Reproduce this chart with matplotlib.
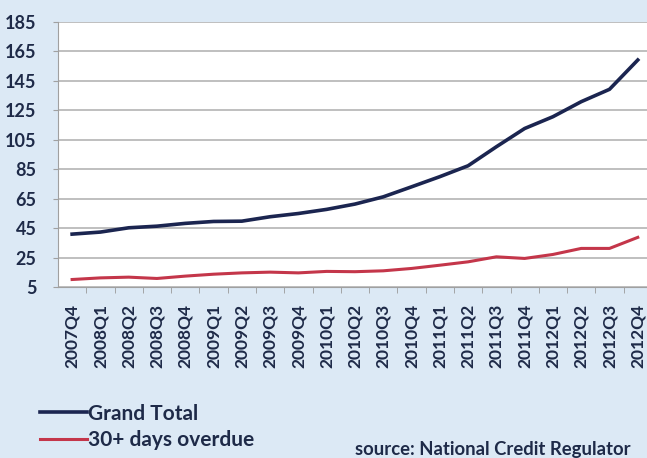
import matplotlib.pyplot as plt
import numpy as np

plt.rcParams['font.family'] = ['Lato', 'DejaVu Sans']

quarters = ["2007Q4", "2008Q1", "2008Q2", "2008Q3", "2008Q4", "2009Q1", "2009Q2",
            "2009Q3", "2009Q4", "2010Q1", "2010Q2", "2010Q3", "2010Q4", "2011Q1",
            "2011Q2", "2011Q3", "2011Q4", "2012Q1", "2012Q2", "2012Q3", "2012Q4"]
grand_total = [41, 42.4, 45.3, 46.4, 48.3, 49.6, 49.8, 52.8, 55, 57.8, 61.4,
               66.3, 73.1, 80, 87.4, 100.3, 112.7, 120.7, 130.9, 139.3, 159.2]
overdue_30 = [10.2, 11.3, 11.8, 10.9, 12.5, 13.8, 14.7, 15.2, 14.7, 15.7, 15.5,
              16.1, 17.7, 19.9, 22.2, 25.6, 24.5, 27.2, 31.3, 31.3, 38.8]
y_ticks = [5, 25, 45, 65, 85, 105, 125, 145, 165, 185]

bg = "#dce9f5"
text_col = "#1e2a48"

fig = plt.figure(figsize=(6.47, 4.58), dpi=100, facecolor=bg)
ax = fig.add_axes([0.0896, 0.373, 0.918, 0.579])
ax.set_facecolor("white")

x = np.arange(len(quarters))
l1, = ax.plot(x, grand_total, color="#1b2550", lw=2.6, label="Grand Total")
l2, = ax.plot(x, overdue_30, color="#c4364a", lw=2.2, label="30+ days overdue")

ax.set_xlim(-0.5, len(quarters) - 0.5)
ax.set_ylim(5, 185)
ax.set_yticks(y_ticks)
ax.set_yticklabels([str(v) for v in y_ticks], fontsize=13, fontweight="bold", color=text_col)
ax.tick_params(axis="y", length=3.5, color="#a0a0a0", pad=12)

ax.set_xticks(x)
ax.set_xticklabels(quarters, rotation=90, fontsize=12.5, fontweight="bold", color=text_col)
ax.tick_params(axis="x", length=0, pad=12)
ax.set_xticks(x[:-1] + 0.5, minor=True)
ax.tick_params(axis="x", which="minor", length=4, color="#9a9a9a", direction="out")

ax.grid(axis="y", color="#b4b4b4", lw=1.2)
ax.set_axisbelow(True)
for side in ["top", "right"]:
    ax.spines[side].set_visible(False)
ax.spines["left"].set_color("#a0a0a0")
ax.spines["bottom"].set_color("#a0a0a0")

leg = fig.legend(handles=[l1, l2], loc="lower left", bbox_to_anchor=(40 / 647, 8 / 458),
                 frameon=False, handlelength=2.25, handletextpad=0.05,
                 labelspacing=0.3, borderpad=0, borderaxespad=0,
                 prop={"weight": "bold", "size": 15})
for t in leg.get_texts():
    t.set_color(text_col)

fig.text(355 / 647, 0.0, "source: National Credit Regulator", fontsize=13.3,
         fontweight="bold", color=text_col, va="bottom", ha="left")

fig.savefig("out.png", dpi=100, facecolor=bg)
